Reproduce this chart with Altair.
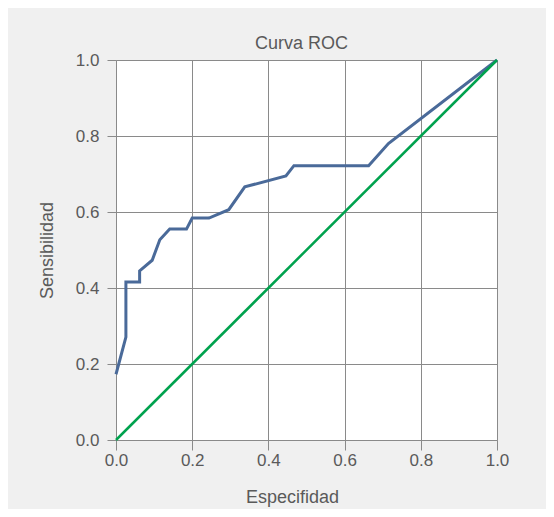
import altair as alt
import pandas as pd

# ROC curve points
fpr = [0.0, 0.026, 0.026, 0.062, 0.062, 0.095, 0.115, 0.141, 0.185, 0.200, 0.244, 0.296, 0.338, 0.446, 0.467, 0.663, 0.715, 1.0]
tpr = [0.173, 0.271, 0.416, 0.416, 0.445, 0.473, 0.527, 0.555, 0.555, 0.584, 0.584, 0.606, 0.666, 0.695, 0.722, 0.722, 0.780, 1.0]

diag_x = [0.0, 1.0]
diag_y = [0.0, 1.0]

tick_values = [0.0, 0.2, 0.4, 0.6, 0.8, 1.0]

roc = pd.DataFrame({"x": fpr, "y": tpr, "i": list(range(len(fpr)))})
diag = pd.DataFrame({"x": diag_x, "y": diag_y, "i": [0, 1]})

FONT = "Liberation Sans, Arial, sans-serif"
TXT = "#5a5a5a"
GRID = "#8a8a8a"

xenc = alt.X(
    "x:Q",
    scale=alt.Scale(domain=[0, 1], nice=False),
    axis=alt.Axis(
        title="Especifidad", values=tick_values, format=".1f",
        tickSize=10, labelPadding=2, labelFlush=False,
        titleX=176, titleY=62, titleBaseline="alphabetic", titleAlign="center",
    ),
)
yenc = alt.Y(
    "y:Q",
    scale=alt.Scale(domain=[0, 1], nice=False),
    axis=alt.Axis(
        title="Sensibilidad", values=tick_values, format=".1f",
        tickSize=9, labelPadding=8, labelFlush=False, titleX=-60,
    ),
)

roc_line = alt.Chart(roc).mark_line(color="#4a6a99", strokeWidth=3).encode(
    x=xenc, y=yenc, order="i:Q"
)
diag_line = alt.Chart(diag).mark_line(color="#00a24e", strokeWidth=2.5).encode(
    x="x:Q", y="y:Q", order="i:Q"
)

chart = (
    alt.layer(roc_line, diag_line)
    .properties(
        width=381,
        height=380,
        title=alt.TitleParams("Curva ROC", dx=-5, dy=28, offset=12, baseline="alphabetic"),
        background="#f0f0f0",
        autosize=alt.AutoSizeParams(type="none"),
        padding={"left": 108, "top": 52, "right": 49, "bottom": 69},
    )
    .configure_view(fill="white", stroke=None)
    .configure_axis(
        grid=True, gridColor=GRID, gridWidth=1, gridOpacity=1,
        domainColor=GRID, domainWidth=1, tickColor=GRID, tickWidth=1,
        labelFont=FONT, labelFontSize=17, labelColor=TXT,
        titleFont=FONT, titleFontSize=18, titleColor=TXT, titleFontWeight="normal",
    )
    .configure_title(font=FONT, fontSize=18, color=TXT, fontWeight="normal")
)

chart.save("out.html", embed_options={"renderer": "svg", "actions": False})
